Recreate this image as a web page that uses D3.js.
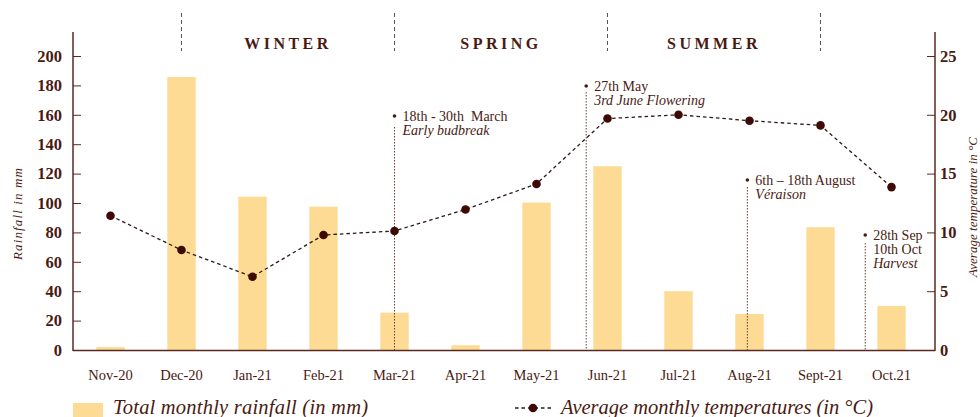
<!DOCTYPE html>
<html>
<head>
<meta charset="utf-8">
<script src="https://cdn.jsdelivr.net/npm/d3@7"></script>
<style>
  body { margin: 0; background: #fff; }
  svg text { font-family: "Liberation Serif", "DejaVu Serif", serif; fill: #4a1a12; white-space: pre; }
</style>
</head>
<body>
<div id="chart"></div>
<script>
// data
const months = ["Nov-20", "Dec-20", "Jan-21", "Feb-21", "Mar-21", "Apr-21", "May-21", "Jun-21", "Jul-21", "Aug-21", "Sept-21", "Oct.21"];
const rainfall = [2, 185.7, 104.3, 97.5, 25.4, 3.2, 100.3, 125, 40, 24.5, 83.5, 30];
const temperature = [11.42, 8.5, 6.23, 9.78, 10.12, 11.95, 14.12, 19.68, 20.0, 19.5, 19.1, 13.85];
const rainTicks = [0, 20, 40, 60, 80, 100, 120, 140, 160, 180, 200];
const tempTicks = [0, 5, 10, 15, 20, 25];
const seasons = ["WINTER", "SPRING", "SUMMER"];
const seasonEdges = ["Dec-20", "Mar-21", "Jun-21", "Sept-21"];
// stages of the vine: month the marker sits on, offset inside the month, height on the temperature axis
const stages = [
    { month: "Mar-21", shift: 0, top: 19.9, gap: 11, lines: ["18th - 30th  March", "Early budbreak"] },
    { month: "Jun-21", shift: -0.3, top: 22.45, gap: 6, lines: ["27th May", "3rd June Flowering"] },
    { month: "Aug-21", shift: -0.03, top: 14.45, gap: 7, lines: ["6th \u2013 18th August", "V\u00e9raison"] },
    { month: "Oct.21", shift: -0.37, top: 9.78, gap: 8, lines: ["28th Sep", "10th Oct", "Harvest"] }
];

const width = 980;
const height = 417;
const left = 73;
const right = 935;
const bottom = 350;

const svg = d3.select('#chart')
    .append('svg')
    .attr('width', width)
    .attr('height', height);

const x = d3.scaleBand()
    .domain(months)
    .range([75, 927])
    .paddingInner(0.6)
    .paddingOuter(0.3);

const yRain = d3.scaleLinear().domain([0, 200]).range([bottom, 56]);
const yTemp = d3.scaleLinear().domain([0, 25]).range([bottom, 56]);
const cx = m => x(m) + x.bandwidth() / 2;

// bars
svg.selectAll('rect.bar')
    .data(months)
    .enter()
    .append('rect')
    .attr('class', 'bar')
    .attr('x', m => x(m))
    .attr('width', x.bandwidth())
    .attr('y', (m, i) => yRain(rainfall[i]))
    .attr('height', (m, i) => bottom - yRain(rainfall[i]))
    .attr('fill', '#fddb94');

// seasons
svg.selectAll('line.season')
    .data(seasonEdges)
    .enter()
    .append('line')
    .attr('x1', m => cx(m))
    .attr('x2', m => cx(m))
    .attr('y1', 13)
    .attr('y2', 51)
    .attr('stroke', '#555')
    .attr('stroke-width', 1)
    .attr('stroke-dasharray', '4,3');

svg.selectAll('text.season')
    .data(seasons)
    .enter()
    .append('text')
    .attr('x', (s, i) => (cx(seasonEdges[i]) + cx(seasonEdges[i + 1])) / 2)
    .attr('y', 49)
    .attr('text-anchor', 'middle')
    .style('font-size', '16px')
    .style('font-weight', 'bold')
    .style('letter-spacing', '3.5px')
    .text(s => s);

// stage markers
stages.forEach(s => {
    const px = cx(s.month) + s.shift * x.step();
    const py = yTemp(s.top);
    svg.append('circle').attr('cx', px).attr('cy', py).attr('r', 1.8).attr('fill', '#4a1a12');
    svg.append('line')
        .attr('x1', px).attr('x2', px)
        .attr('y1', py + s.gap).attr('y2', bottom)
        .attr('stroke', '#6a3a30')
        .attr('stroke-width', 1)
        .attr('stroke-dasharray', '1.5,1.5');
    s.lines.forEach((t, j) => {
        const italic = j === s.lines.length - 1;
        svg.append('text')
            .attr('x', px + 8)
            .attr('y', py + 5 + j * 14)
            .style('font-size', '14px')
            .style('font-style', italic ? 'italic' : 'normal')
            .text(t);
    });
});

// temperature line
const line = d3.line()
    .x((d, i) => cx(months[i]))
    .y(d => yTemp(d));

svg.append('path')
    .datum(temperature)
    .attr('d', line)
    .attr('fill', 'none')
    .attr('stroke', '#2a1a18')
    .attr('stroke-width', 1.3)
    .attr('stroke-dasharray', '3.5,3');

svg.selectAll('circle.dot')
    .data(temperature)
    .enter()
    .append('circle')
    .attr('class', 'dot')
    .attr('cx', (d, i) => cx(months[i]))
    .attr('cy', d => yTemp(d))
    .attr('r', 4.3)
    .attr('fill', '#3d0a05');

// axes
const axisColor = '#5a2a22';

const yAxisL = d3.axisRight(yRain).tickValues(rainTicks).tickSize(8);
const gl = svg.append('g').attr('transform', `translate(${left},0)`).call(yAxisL);
gl.select('.domain').remove();
gl.selectAll('line').attr('stroke', axisColor);
gl.selectAll('text')
    .attr('text-anchor', 'end')
    .attr('x', -11)
    .style('font-size', '16.5px')
    .style('font-weight', 'bold')
    .attr('fill', '#4a1a12');

const yAxisR = d3.axisLeft(yTemp).tickValues(tempTicks).tickSize(8);
const gr = svg.append('g').attr('transform', `translate(${right},0)`).call(yAxisR);
gr.select('.domain').remove();
gr.selectAll('line').attr('stroke', axisColor);
gr.selectAll('text')
    .attr('text-anchor', 'start')
    .attr('x', 5)
    .style('font-size', '16.5px')
    .style('font-weight', 'bold')
    .attr('fill', '#4a1a12');

svg.append('line').attr('x1', left).attr('x2', left).attr('y1', 32).attr('y2', bottom + 1)
    .attr('stroke', axisColor).attr('stroke-width', 1.5);
svg.append('line').attr('x1', right).attr('x2', right).attr('y1', 32).attr('y2', bottom + 1)
    .attr('stroke', axisColor).attr('stroke-width', 1.5);
svg.append('line').attr('x1', left).attr('x2', right).attr('y1', bottom + 0.5).attr('y2', bottom + 0.5)
    .attr('stroke', axisColor).attr('stroke-width', 1.5);

const xAxis = d3.axisBottom(x).tickSize(0).tickPadding(20);
const gx = svg.append('g').attr('transform', `translate(0,${bottom})`).call(xAxis);
gx.select('.domain').remove();
gx.selectAll('text')
    .style('font-size', '14.5px')
    .attr('fill', '#4a1a12');

// axis titles
svg.append('text')
    .attr('transform', 'translate(22,214) rotate(-90)')
    .attr('text-anchor', 'middle')
    .attr('textLength', 92)
    .style('font-size', '13px')
    .style('font-style', 'italic')
    .text('Rainfall in mm');

svg.append('text')
    .attr('transform', 'translate(977,207) rotate(-90)')
    .attr('text-anchor', 'middle')
    .attr('textLength', 140)
    .style('font-size', '13px')
    .style('font-style', 'italic')
    .text('Average temperature in \u00b0C');

// legend
svg.append('rect').attr('x', 73).attr('y', 403).attr('width', 30).attr('height', 14).attr('fill', '#fddb94');
svg.append('text')
    .attr('x', 113).attr('y', 414)
    .attr('textLength', 255)
    .style('font-size', '20.5px')
    .style('font-style', 'italic')
    .text('Total monthly rainfall (in mm)');

svg.append('line')
    .attr('x1', 515).attr('x2', 551).attr('y1', 408).attr('y2', 408)
    .attr('stroke', '#2a1a18').attr('stroke-width', 1.3).attr('stroke-dasharray', '3.5,3');
svg.append('circle').attr('cx', 533).attr('cy', 408).attr('r', 4.3).attr('fill', '#3d0a05');
svg.append('text')
    .attr('x', 561).attr('y', 414)
    .attr('textLength', 312)
    .style('font-size', '20.5px')
    .style('font-style', 'italic')
    .text('Average monthly temperatures (in \u00b0C)');
</script>
</body>
</html>
